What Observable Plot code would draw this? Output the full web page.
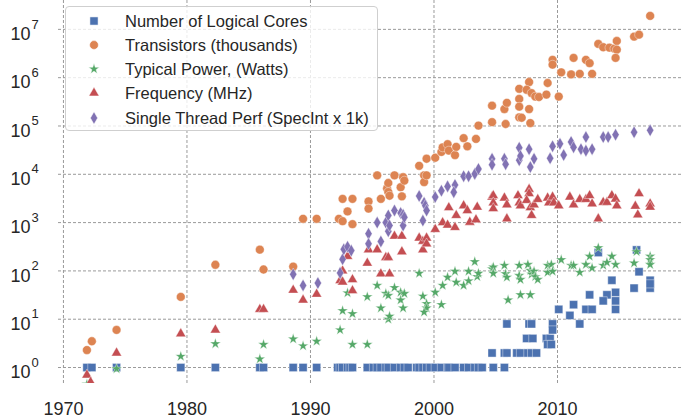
<!DOCTYPE html>
<html><head><meta charset="utf-8">
<script src="https://cdn.jsdelivr.net/npm/d3@7"></script>
<script src="https://cdn.jsdelivr.net/npm/@observablehq/plot@0.6"></script>
<style>
html,body{margin:0;padding:0;background:#fff;}
#wrap{position:relative;width:683px;height:418px;overflow:hidden;}
#wrap svg{display:block;}
#legend{position:absolute;left:65px;top:6px;width:313px;height:125px;box-sizing:border-box;background:rgba(255,255,255,0.8);border:1px solid #cfcfcf;border-radius:4px;font-family:"Liberation Sans",Arial,sans-serif;font-size:16.5px;color:#262626;}
.row{position:absolute;left:0;height:24px;width:100%;}
.row svg{position:absolute;left:19px;top:3px;}
.row span{position:absolute;left:59px;top:0;line-height:24px;white-space:nowrap;}
</style>
</head><body><div id="wrap"></div>
<script>
// ---------- data ----------
const xTicks = [1970, 1980, 1990, 2000, 2010];
const yExponents = [0, 1, 2, 3, 4, 5, 6, 7];

const seriesNames = ["Number of Logical Cores", "Transistors (thousands)", "Typical Power, (Watts)", "Frequency (MHz)", "Single Thread Perf (SpecInt x 1k)"];

const coresYear = [1971.9,1972.3,1974.3,1979.5,1982.3,1985.9,1986.2,1988.6,1989.4,1990.5,1992.2,1992.4,1992.6,1993.0,1993.2,1993.4,1994.6,1995.1,1995.4,1995.7,1996.1,1996.3,1996.8,1997.3,1997.6,1997.9,1998.6,1998.8,1999.1,1999.4,1999.7,2000.1,2000.6,2001.1,2001.2,2001.7,2002.4,2002.8,2003.3,2003.6,2003.9,2004.8,2005.7,
  2004.7,2005.7,2005.9,2006.7,2007.0,2007.6,2007.9,2008.3,
  2007.5,2008.0,2009.1,2009.4,2009.2,2009.5,
  2005.9,2007.7,2007.9,2009.6,2011.8,2009.6,
  2010.1,2012.3,2012.8,2014.7,2011.0,2011.3,2012.6,2014.0,2013.7,2014.7,2014.7,2014.4,2017.5,2013.3,2016.4,2016.6,2016.2,2017.5,2017.5];
const coresCount = [1,1,1,1,1,1,1,1,1,1,1,1,1,1,1,1,1,1,1,1,1,1,1,1,1,1,1,1,1,1,1,1,1,1,1,1,1,1,1,1,1,1,1,
  2,2,2,2,2,2,2,2,
  4,4,4,4,3,3,
  8,8,8,8,8,6,
  16,16,16,16,12,20,32,32,24,24,36,64,64,240,272,96,44,44,54];

const transYear = [1971.9,1972.3,1974.3,1979.5,1982.3,1985.9,1986.2,1988.6,1989.4,1990.5,1992.3,1992.6,1992.6,1993.0,1993.4,1993.4,1994.7,1994.7,1995.4,1995.7,1996.2,1996.3,1996.3,1996.4,1996.8,1997.3,1997.4,1997.5,1997.6,1998.8,1999.2,1999.2,1999.4,1999.4,2000.1,2000.6,2000.7,2001.1,2001.2,2001.7,2001.8,2002.4,2002.7,2003.4,2003.6,2004.7,2004.7,2005.7,2005.9,2005.8,2006.9,2006.9,2006.9,2006.9,2007.1,2007.7,2007.7,2007.8,2007.5,2007.9,2008.2,2008.5,2009.2,2009.1,2009.6,2009.6,2010.1,2010.3,2011.1,2011.3,2011.8,2012.3,2012.6,2012.8,2013.3,2013.7,2014.2,2014.6,2014.8,2014.8,2014.7,2016.2,2016.6,2017.5];
const transThousands = [2.3,3.5,6,29,134,275,107,123,1200,1200,1200,1070,3100,1700,3100,930,2750,1950,9500,3100,5100,6600,4300,3600,9500,5400,3500,8700,7400,15000,9500,6900,9500,21000,22000,29000,36000,42000,31000,25000,37000,56000,38000,54000,102000,263000,120000,224000,302000,110000,589000,363000,251000,151000,148000,813000,224000,115000,562000,479000,407000,398000,776000,447000,2340000,1860000,407000,1290000,1170000,2570000,1200000,2340000,2000000,1200000,5000000,4270000,4170000,3980000,5750000,3800000,2570000,7080000,7760000,19000000];

const powerYear = [1971.9,1974.3,1979.5,1982.3,1985.9,1986.2,1988.6,1989.4,1990.5,1992.4,1992.6,1993.0,1993.4,1993.4,1994.6,1994.6,1995.4,1995.7,1996.1,1996.3,1996.3,1996.4,1996.8,1997.3,1997.3,1997.6,1997.5,1998.8,1999.1,1999.4,1999.4,1999.2,2000.1,2000.6,2000.7,2001.1,2001.7,2001.8,2002.4,2002.8,2002.8,2003.3,2003.5,2003.6,2004.7,2004.8,2004.8,2005.7,2005.8,2005.9,2006.0,2006.9,2006.9,2007.0,2007.0,2007.6,2007.8,2007.8,2007.9,2008.1,2008.2,2008.4,2009.2,2009.2,2009.5,2009.6,2010.3,2011.1,2011.3,2011.8,2012.3,2012.6,2012.8,2013.3,2013.7,2014.0,2014.4,2014.7,2016.2,2016.4,2017.5,2017.5,2017.5];
const powerWatts = [0.45,0.94,1.7,3.1,1.5,3.0,3.9,2.8,3.5,6.0,15,35,13,3.0,29,3.0,50,17,34,31,10,11.5,45,36,25,34,17,89,30,21,17,14,36,20,50,74,98,58,50,98,62,155,76,89,110,120,89,130,87,74,25,130,80,66,32,135,102,32,85,98,76,66,130,93,135,98,170,130,130,93,135,200,115,300,130,150,200,135,145,250,200,170,135];

const freqYear = [1971.9,1972.2,1974.3,1979.5,1982.3,1985.9,1986.2,1988.6,1989.4,1990.5,1992.4,1992.6,1992.6,1993.0,1993.4,1993.4,1994.6,1994.7,1995.4,1995.7,1996.4,1996.1,1996.3,1996.8,1997.4,1997.4,1998.8,1999.1,1999.4,1999.1,1999.4,2000.1,2000.7,2001.1,2001.2,2001.7,2001.8,2002.4,2002.7,2002.9,2003.4,2003.5,2004.7,2004.8,2004.8,2004.8,2005.7,2005.9,2005.9,2006.8,2006.9,2007.0,2007.7,2007.7,2007.5,2007.8,2007.9,2008.1,2008.4,2009.2,2009.3,2009.6,2009.7,2010.1,2011.0,2011.3,2011.8,2012.3,2012.6,2012.8,2013.3,2013.7,2014.0,2014.4,2014.7,2014.8,2016.6,2016.3,2016.5,2017.5,2017.5];
const freqMHz = [0.7,0.5,2,5,6,16,16,40,25,33,63,59,100,200,66,39,145,275,275,87,87,190,190,525,250,525,480,410,480,275,363,725,1000,890,2040,795,1410,2240,1780,1020,1150,2090,3390,3630,2570,1950,3240,2340,1200,3630,2570,2240,4900,3980,2880,2040,1410,2340,3020,3240,2570,3390,2570,2240,3390,2340,3020,3020,3630,2450,1200,2630,2630,3630,3090,2240,3980,2190,1450,2450,2090];

const perfYear = [1988.6,1989.4,1990.6,1992.4,1992.6,1992.7,1993.0,1993.3,1994.7,1994.7,1995.4,1995.7,1996.1,1996.3,1996.3,1996.4,1996.8,1997.3,1997.5,1997.5,1997.6,1998.8,1999.2,1999.3,1999.4,1999.1,2000.1,2000.6,2001.1,2001.7,2001.6,2002.4,2002.8,2003.3,2003.6,2004.7,2004.7,2005.7,2005.8,2006.9,2006.9,2007.0,2007.7,2007.8,2008.1,2009.4,2009.6,2010.2,2010.5,2011.1,2011.3,2011.9,2012.3,2012.3,2012.8,2013.7,2014.1,2014.7,2016.2,2017.5];
const perfSpecIntK = [85,50,56,91,174,280,316,263,590,363,1000,407,1000,1410,660,870,1780,1580,1450,870,1290,3550,2570,2240,1780,1100,3390,4570,5620,6030,4270,9120,9120,10200,12900,20900,15800,20900,16200,35500,19500,24000,33100,14100,20900,21400,38000,42700,25100,46800,36300,33100,58900,30900,33100,58900,58900,66100,74100,81300];

// ---------- styles ----------
const colors = ["#4C72B0", "#DD8452", "#55A868", "#C44E52", "#8172B3"];
const symbols = ["square", "circle", "star", "triangle", "diamond"];
const radii = [4.6, 4.4, 3.4, 3.8, 3.8];

const toRows = (xs, vs) => xs.map((x, i) => ({year: x, value: vs[i]}));
const tables = [
  toRows(coresYear, coresCount),
  toRows(transYear, transThousands),
  toRows(powerYear, powerWatts),
  toRows(freqYear, freqMHz),
  toRows(perfYear, perfSpecIntK)
];
const yTicks = yExponents.map(e => Math.pow(10, e));

const gridStyle = {stroke: "#9a9a9a", strokeDasharray: "3,2", strokeWidth: 1};
const textColor = "#262626";

const chart = Plot.plot({
  width: 683, height: 418,
  marginLeft: 58, marginRight: 0, marginTop: 0, marginBottom: 35,
  style: {fontFamily: "'Liberation Sans', Arial, sans-serif", fontSize: "18px", color: textColor, background: "white"},
  x: {domain: [1969.6, 2020.2], axis: null},
  y: {type: "log", domain: [0.467, 3.96e7], axis: null},
  marks: [
    Plot.ruleX(xTicks, {x: d => d, ...gridStyle}),
    Plot.ruleY(yTicks, {y: d => d, ...gridStyle}),
    ...tables.map((t, i) => Plot.dot(t, {
      x: "year", y: "value", symbol: symbols[i], r: radii[i],
      fill: colors[i], stroke: "white", strokeWidth: 0.5, strokeOpacity: 0.8, clip: true
    })),
    Plot.text(xTicks, {x: d => d, text: d => String(d), frameAnchor: "bottom", lineAnchor: "top", dy: 19, fontSize: 18, fill: textColor}),
    Plot.text(yTicks, {y: d => d, text: () => "10", frameAnchor: "left", textAnchor: "end", dx: -28, dy: 5, fontSize: 18, fill: textColor}),
    Plot.text(yExponents, {y: e => Math.pow(10, e), text: e => String(e), frameAnchor: "left", textAnchor: "start", dx: -27, dy: -5, fontSize: 13, fill: textColor})
  ]
});

const wrap = document.getElementById("wrap");
wrap.appendChild(chart);

// legend overlay
const legend = document.createElement("div");
legend.id = "legend";
const rowCenters = [14, 38, 62, 86, 111];
const d3sym = {square: d3.symbolSquare, circle: d3.symbolCircle, star: d3.symbolStar, triangle: d3.symbolTriangle, diamond: d3.symbolDiamond};
seriesNames.forEach((name, i) => {
  const row = document.createElement("div");
  row.className = "row";
  row.style.top = (rowCenters[i] - 12) + "px";
  const path = d3.symbol(d3sym[symbols[i]], radii[i] * radii[i] * Math.PI)();
  row.innerHTML = `<svg width="18" height="18" viewBox="-9 -9 18 18"><path d="${path}" fill="${colors[i]}" stroke="white" stroke-width="0.5"/></svg><span>${name}</span>`;
  legend.appendChild(row);
});
wrap.appendChild(legend);
</script></body></html>
